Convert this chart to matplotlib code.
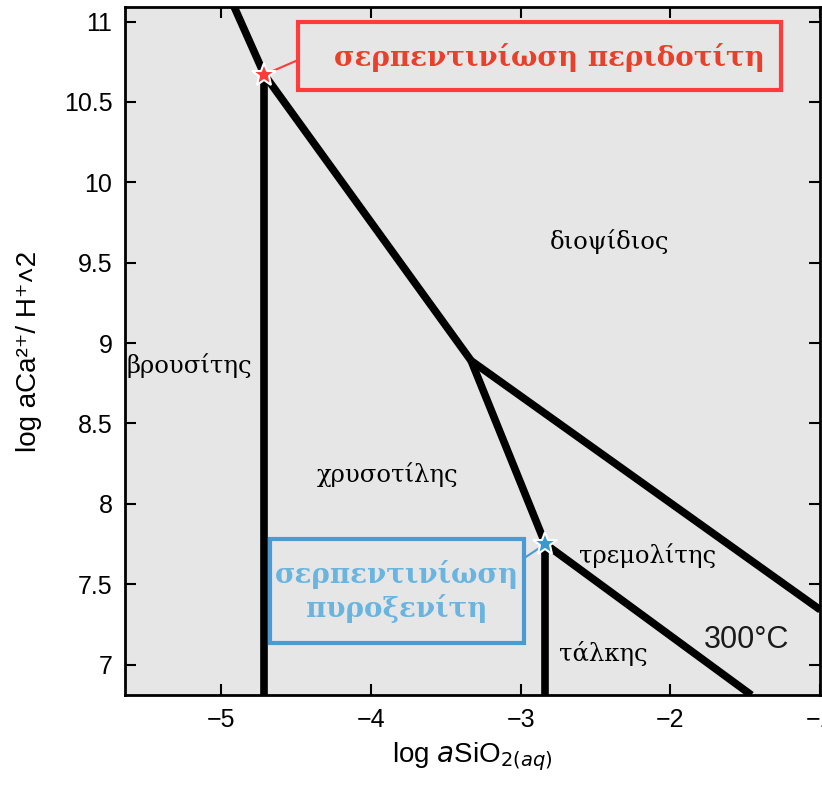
import matplotlib.pyplot as plt
from matplotlib.patches import Rectangle

# ----------------------------
# data
# ----------------------------
x_lim = (-5.64, -1.0)
y_lim = (6.81, 11.09)

x_ticks = [-5, -4, -3, -2, -1]
x_tick_labels = ["\u22125", "\u22124", "\u22123", "\u22122", "\u22121"]
y_ticks = [7, 7.5, 8, 8.5, 9, 9.5, 10, 10.5, 11]
y_tick_labels = ["7", "7.5", "8", "8.5", "9", "9.5", "10", "10.5", "11"]

# phase boundaries (log aSiO2, log aCa2+/H+^2)
brc_di_x = [-4.92, -4.71]
brc_di_y = [11.11, 10.67]
brc_ctl_x = [-4.71, -4.71]
brc_ctl_y = [10.67, 6.81]
ctl_di_x = [-4.71, -3.33]
ctl_di_y = [10.67, 8.89]
tr_di_x = [-3.33, -1.0]
tr_di_y = [8.89, 7.34]
ctl_tr_x = [-3.33, -2.835]
ctl_tr_y = [8.89, 7.75]
tlc_tr_x = [-2.835, -1.46]
tlc_tr_y = [7.75, 6.81]
ctl_tlc_x = [-2.835, -2.835]
ctl_tlc_y = [7.75, 6.81]

boundaries = [
    (brc_di_x, brc_di_y), (brc_ctl_x, brc_ctl_y), (ctl_di_x, ctl_di_y),
    (tr_di_x, tr_di_y), (ctl_tr_x, ctl_tr_y), (tlc_tr_x, tlc_tr_y),
    (ctl_tlc_x, ctl_tlc_y),
]

peridotite_pt = (-4.71, 10.67)
pyroxenite_pt = (-2.835, 7.75)

field_names = ["διοψίδιος", "βρουσίτης", "χρυσοτίλης", "τρεμολίτης", "τάλκης"]
field_x = [-2.41, -5.21, -3.89, -2.15, -2.45]
field_y = [9.63, 8.86, 8.18, 7.68, 7.07]

# ----------------------------
# plot
# ----------------------------
plt.rcParams['font.family'] = ['Liberation Sans', 'DejaVu Sans']

fig = plt.figure(figsize=(8.22, 7.89), dpi=100)
ax = fig.add_axes([0.152, 0.119, 0.846, 0.872])
ax.set_facecolor('#e6e6e6')

for bx, by in boundaries:
    ax.plot(bx, by, color='black', lw=5.5, solid_capstyle='butt', zorder=2)

ax.set_xlim(*x_lim)
ax.set_ylim(*y_lim)
ax.set_xticks(x_ticks)
ax.set_xticklabels(x_tick_labels)
ax.set_yticks(y_ticks)
ax.set_yticklabels(y_tick_labels)
ax.tick_params(direction='in', length=8, width=1.5, labelsize=18,
               top=True, right=True, pad=9)
for sp in ax.spines.values():
    sp.set_linewidth(2)

ax.set_xlabel(r'log $a$SiO$_{2(aq)}$', fontsize=20, labelpad=6)
ax.set_ylabel('log aCa\u00b2\u207a/ H\u207a\u02c42', fontsize=20, labelpad=16)

serif = ['DejaVu Serif']
for name, fx, fy in zip(field_names, field_x, field_y):
    ax.text(fx, fy, name, fontsize=17.5, family=serif, ha='center', va='center')

ax.text(-1.49, 7.15, "300°C", fontsize=22, color='#1a1a1a',
        ha='center', va='center')

# peridotite serpentinization
ax.plot([peridotite_pt[0], -4.487], [peridotite_pt[1], 10.76],
        color='#ff3b3b', lw=1.5, zorder=3)
ax.plot(*peridotite_pt, marker='*', ms=18, color='#ff3b3b',
        mec='white', mew=1.5, zorder=4)
ax.add_patch(Rectangle((-4.487, 10.577), 3.227, 0.423, fc='#e6e6e6',
                       ec='#ff3b3b', lw=3, zorder=5))
ax.text(-2.81, 10.776, "σερπεντινίωση περιδοτίτη", fontsize=20,
        family=serif, weight='bold', color='#e8402a', ha='center',
        va='center', zorder=6)

# pyroxenite serpentinization
ax.plot([pyroxenite_pt[0], -2.98], [pyroxenite_pt[1], 7.66],
        color='#4a9ad4', lw=1.5, zorder=3)
ax.plot(*pyroxenite_pt, marker='*', ms=18, color='#3a98cf',
        mec='white', mew=1.5, zorder=4)
ax.add_patch(Rectangle((-4.673, 7.132), 1.693, 0.647, fc='#e6e6e6',
                       ec='#4a9ad4', lw=3, zorder=5))
ax.text(-3.827, 7.455, "σερπεντινίωση\nπυροξενίτη", fontsize=20,
        family=serif, weight='bold', color='#6ab4e0', ha='center',
        va='center', linespacing=1.2, zorder=6)

fig.savefig('out.png', dpi=100)
